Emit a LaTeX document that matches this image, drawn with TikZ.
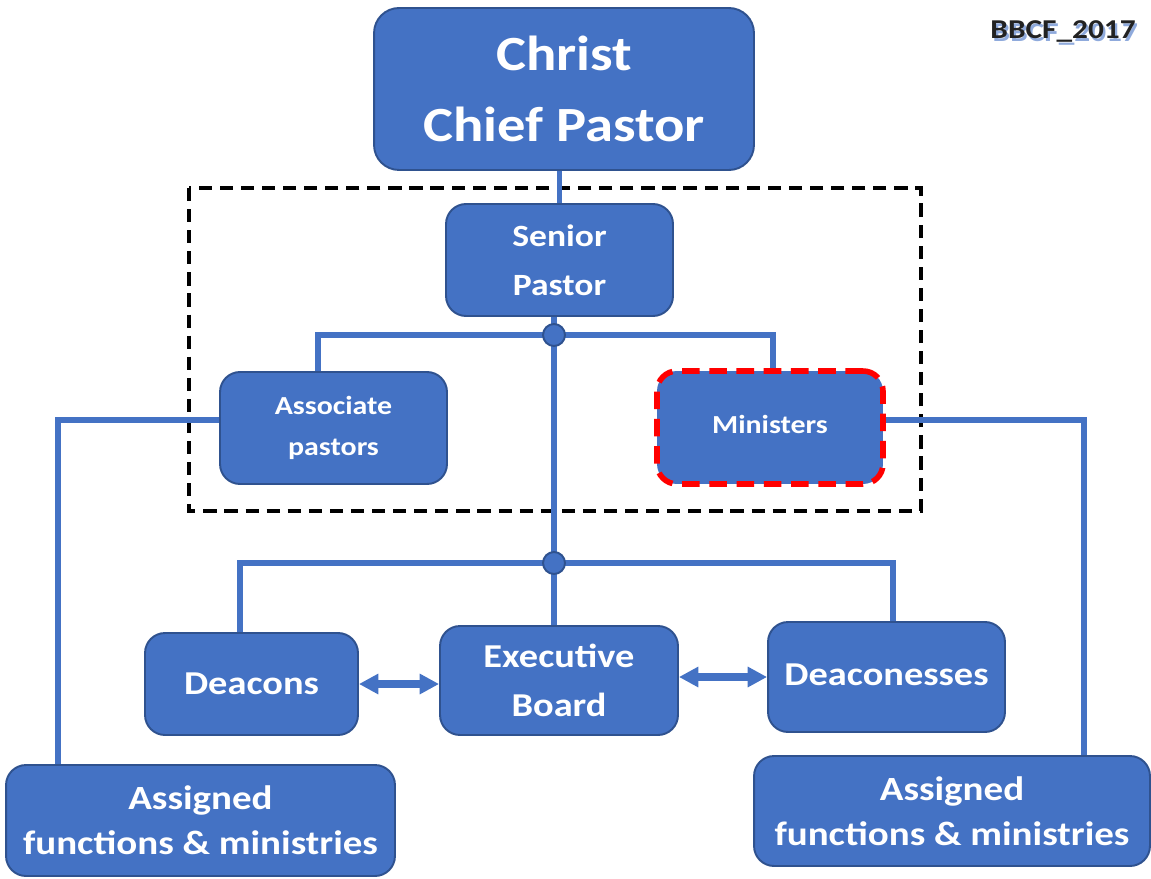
\documentclass[tikz,border=0pt]{standalone}
\usepackage{fontspec}
\setmainfont{Carlito}[FakeStretch=1.15]
\usetikzlibrary{arrows.meta}

\definecolor{orgblue}{HTML}{4472C4}
\definecolor{orgedge}{HTML}{2F528F}
\definecolor{tagshadow}{HTML}{8FAADC}
\definecolor{tagtext}{HTML}{222222}

\tikzset{
    orgbox/.style={draw=orgedge, line width=1.1pt, fill=orgblue, rounded corners=0.4cm,
        text=white, align=center, inner sep=0pt},
    txt/.style 2 args={font={\fontsize{#1}{#2}\selectfont\bfseries}},
    link/.style={draw=orgblue, line width=3pt},
    dot/.style={circle, draw=orgedge, line width=1.1pt, fill=orgblue, minimum size=0.44cm, inner sep=0pt},
    twoway/.style={draw=orgblue, line width=4pt, {Triangle[length=11pt,width=11pt]}-{Triangle[length=11pt,width=11pt]}},
}

\begin{document}
\begin{tikzpicture}[x=0.02cm, y=-0.02cm]
    % Define the layers
    \pgfdeclarelayer{0}
    \pgfsetlayers{0,main}
    \useasboundingbox (0,0) rectangle (1151,878);

    % Top
    \node[orgbox, rounded corners=0.5cm, minimum width=7.6cm, minimum height=3.24cm, txt={28}{40}]
        (christ) at ({564}, {89}) {Christ\\Chief Pastor};
    \node[txt={15.5}{18}, text=tagtext] (bbcf) at ({1063}, {33})
        {\makebox[0pt][l]{\kern1.3pt\raisebox{-1.3pt}{\color{tagshadow}BBCF\_2017}}BBCF\_2017};

    % Pastors
    \node[orgbox, minimum width=4.54cm, minimum height=2.24cm, txt={17.6}{28}]
        (senior) at ({559.5}, {260}) {Senior\\Pastor};
    \node[orgbox, minimum width=4.54cm, minimum height=2.24cm, txt={14.8}{23.5}]
        (assoc) at ({333.5}, {428}) {Associate\\pastors};
    \node[orgbox, draw=red, line width=3.2pt, dash pattern=on 10pt off 5.5pt,
        minimum width=4.52cm, minimum height=2.26cm, txt={14.8}{23.5}]
        (minist) at ({770}, {427.5}) {\raisebox{4pt}{Ministers}};
    \node[dot] (dot1) at ({554}, {335}) {};
    \node[dot] (dot2) at ({554}, {563}) {};

    % Board
    \node[orgbox, minimum width=4.26cm, minimum height=2.04cm, txt={19}{28}]
        (deacons) at ({251.5}, {684}) {Deacons};
    \node[orgbox, minimum width=4.76cm, minimum height=2.18cm, txt={19}{28}]
        (exec) at ({559}, {680.5}) {Executive\\Board};
    \node[orgbox, minimum width=4.74cm, minimum height=2.2cm, txt={19}{28}]
        (deaconesses) at ({886.5}, {677}) {\raisebox{3pt}{Deaconesses}};

    % Assigned
    \node[orgbox, minimum width=7.78cm, minimum height=2.22cm, txt={19.3}{25.5}]
        (assignL) at ({200.5}, {820.5}) {Assigned\\functions \& ministries};
    \node[orgbox, minimum width=7.92cm, minimum height=2.2cm, txt={19.3}{25.5}]
        (assignR) at ({952}, {811}) {Assigned\\functions \& ministries};

    \coordinate (jAssoc) at ({318}, {335});
    \coordinate (jMinist) at ({773}, {335});
    \coordinate (jDeac) at ({240}, {563});
    \coordinate (jDeaco) at ({893}, {563});
    \coordinate (lTurn) at ({58}, {420});
    \coordinate (rTurn) at ({1084}, {420});

    % Layer 0
    \begin{pgfonlayer}{0}
        \draw[black, line width=2pt, dash pattern=on 7.5pt off 4.5pt] ({189}, {188}) rectangle ({921}, {511});
        \draw[link] (senior.north) -- (senior.north |- christ.south);
        \draw[link] (dot1 |- senior.south) -- (dot2 |- exec.north);
        \draw[link] (jAssoc |- assoc.north) -- (jAssoc) -- (jMinist) -- (jMinist |- minist.north);
        \draw[link] (jDeac |- deacons.north) -- (jDeac) -- (jDeaco) -- (jDeaco |- deaconesses.north);
        \draw[link] (assoc.west |- lTurn) -- (lTurn) -- (lTurn |- assignL.north);
        \draw[link] (minist.east |- rTurn) -- (rTurn) -- (rTurn |- assignR.north);
    \end{pgfonlayer}

    \draw[twoway] (deacons.east) -- (deacons.east -| exec.west);
    \draw[twoway] (exec.east |- deaconesses.west) -- (deaconesses.west);
\end{tikzpicture}
\end{document}
